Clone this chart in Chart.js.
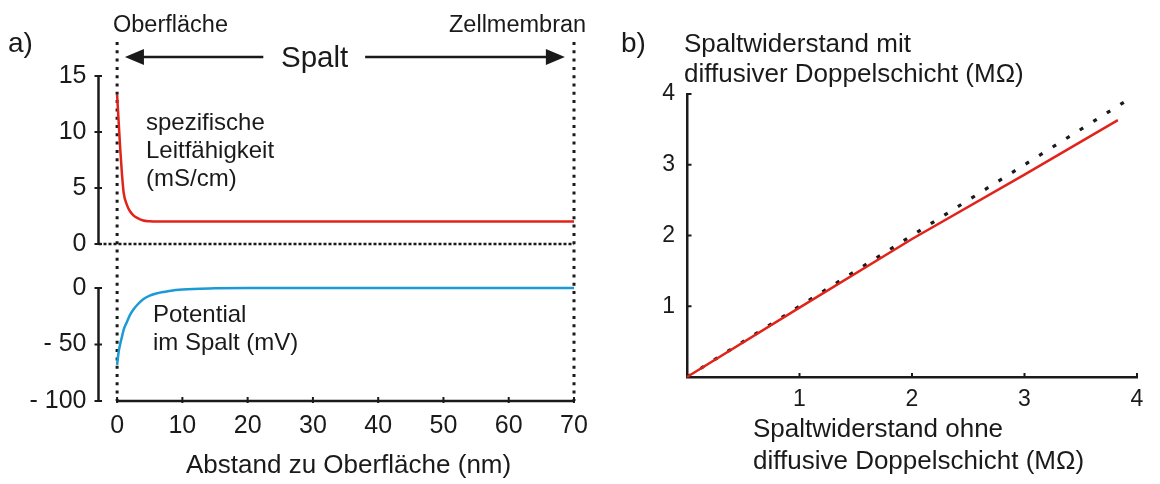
<!DOCTYPE html>
<html lang="de">
<head>
<meta charset="utf-8">
<title>Spalt zwischen Oberfläche und Zellmembran</title>
<script src="https://cdn.jsdelivr.net/npm/chart.js@4.4.1/dist/chart.umd.min.js"></script>
<style>
  html, body { margin: 0; padding: 0; background: #fff; }
  #stage { position: relative; width: 1160px; height: 484px; overflow: hidden;
           font-family: 'Liberation Sans', Arial, Helvetica, sans-serif; color: #1a1a1a; }
  .panel { position: absolute; }
  .lbl { position: absolute; line-height: 1; white-space: nowrap; }
</style>
</head>
<body>
<div id="stage">
  <div class="panel" style="left:0;top:0;"><canvas id="gapChart" width="600" height="484"></canvas></div>
  <div class="panel" style="left:600px;top:0;"><canvas id="resChart" width="560" height="484"></canvas></div>

  <div class="lbl" style="left:8px;top:29px;font-size:28px;">a)</div>
  <div class="lbl" style="left:621px;top:29px;font-size:28px;">b)</div>
  <div class="lbl" style="left:113px;top:13.4px;font-size:23.5px;">Oberfläche</div>
  <div class="lbl" style="left:449px;top:13.4px;font-size:23.5px;">Zellmembran</div>
  <div class="lbl" style="left:281px;top:42px;font-size:29.5px;">Spalt</div>
  <div class="lbl" style="left:146px;top:107.7px;font-size:24px;line-height:28px;">spezifische<br>Leitfähigkeit<br>(mS/cm)</div>
  <div class="lbl" style="left:153px;top:299.7px;font-size:24px;line-height:28px;">Potential<br>im Spalt (mV)</div>
  <div class="lbl" style="left:186px;top:451px;font-size:26px;">Abstand zu Oberfläche (nm)</div>
  <div class="lbl" style="left:684px;top:28px;font-size:26px;line-height:30px;">Spaltwiderstand mit<br>diffusiver Doppelschicht (MΩ)</div>
  <div class="lbl" style="left:753px;top:412px;font-size:26px;line-height:32px;">Spaltwiderstand ohne<br>diffusive Doppelschicht (MΩ)</div>
</div>

<script>
// ---- panel a: profile across the gap ----
const distanceNm   = [0, 0.25, 0.5, 0.75, 1, 1.5, 2, 2.5, 3, 4, 5, 6, 8, 10, 15, 20, 30, 40, 50, 60, 70];
const conductivity = [13.3, 10.8, 8.3, 6.2, 4.6, 3.5, 2.9, 2.55, 2.35, 2.1, 2.03, 2.0, 2.0, 2.0, 2.0, 2.0, 2.0, 2.0, 2.0, 2.0, 2.0];
const potential    = [-68, -56, -49, -43, -37, -30, -23.5, -19, -15.5, -10, -6.8, -4.8, -2.6, -1.3, -0.3, 0, 0, 0, 0, 0, 0];
const distanceTicks     = [0, 10, 20, 30, 40, 50, 60, 70];
const conductivityTicks = [0, 5, 10, 15];
const potentialTicks    = [0, -50, -100];

// ---- panel b: gap resistance with vs. without diffuse double layer ----
const resistanceWithout = [0, 1, 2, 3, 3.83];
const resistanceWith    = [0, 0.98, 1.95, 2.86, 3.63];
const identityEnds      = [0, 3.97];
const resistanceTicks   = [1, 2, 3, 4];

const FONT = "'Liberation Sans', Arial, Helvetica, sans-serif";
const INK = '#1a1a1a';
const RED = '#e2231a';
const BLUE = '#1b9ad6';

// Panel a: both value bands share one plot area; each y scale gets the range
// that places its band at the wanted pixel rows.
const AREA_A = { top: 42, bottom: 401, left: 98.5, right: 574 };
const BAND_COND = { lo: 0, hi: 15, pxLo: 244, pxHi: 76 };
const BAND_POT  = { lo: -100, hi: 0, pxLo: 401, pxHi: 288 };
function bandRange(b, area) {
  const per = (b.pxLo - b.pxHi) / (b.hi - b.lo);
  return { min: b.lo - (area.bottom - b.pxLo) / per, max: b.hi + (b.pxHi - area.top) / per };
}
const condRange = bandRange(BAND_COND, AREA_A);
const potRange = bandRange(BAND_POT, AREA_A);
const X_MIN_A = -2.85;
const X_MAX_A = 70;
const LABEL_GAP = 12;   // px between y labels and the axis line
const pxPerNm = (AREA_A.right - AREA_A.left) / (X_MAX_A - X_MIN_A);

const toPoints = (xs, ys) => xs.map((v, i) => ({ x: v, y: ys[i] }));
const fixTicks = list => scale => { scale.ticks = list.map(v => ({ value: v })); };
const tickFont = size => ({ family: FONT, size: size });

function seg(ctx, x1, y1, x2, y2) {
  ctx.beginPath(); ctx.moveTo(x1, y1); ctx.lineTo(x2, y2); ctx.stroke();
}
function arrowHead(ctx, tipX, y, dir) {
  ctx.beginPath();
  ctx.moveTo(tipX, y);
  ctx.lineTo(tipX - dir * 19, y - 8);
  ctx.lineTo(tipX - dir * 19, y + 8);
  ctx.closePath();
  ctx.fill();
}

// Guides, axes, tick marks and the "Spalt" arrows of panel a
const SPAN_ARROWS = { y: 57, leftTip: 1.2, leftTail: 22.4, rightTail: 38.0, rightTip: 68.6 };
const gapGuides = {
  id: 'gapGuides',
  beforeDatasetsDraw(chart) {
    const { ctx, chartArea, scales: { x, yCond, yPot } } = chart;
    ctx.save();
    ctx.strokeStyle = INK;
    // dotted boundaries: surface (0 nm) and cell membrane (70 nm)
    ctx.lineWidth = 3;
    ctx.setLineDash([3, 5.3]);
    for (const d of [0, 70]) {
      const px = x.getPixelForValue(d);
      seg(ctx, px, chartArea.top, px, yPot.getPixelForValue(-100));
    }
    // dotted zero line of the conductivity band
    ctx.lineWidth = 2.5;
    ctx.setLineDash([3, 2]);
    const y0 = yCond.getPixelForValue(0);
    seg(ctx, chartArea.left, y0, x.getPixelForValue(70), y0);
    ctx.setLineDash([]);

    // y axes (each only across its own band)
    const ax = chartArea.left;
    seg(ctx, ax, yCond.getPixelForValue(15) - 1, ax, y0);
    seg(ctx, ax, yPot.getPixelForValue(0) - 1, ax, yPot.getPixelForValue(-100) + 1);
    ctx.lineWidth = 2;
    for (const v of conductivityTicks) {
      const py = yCond.getPixelForValue(v);
      seg(ctx, ax - 4, py, ax + 3.5, py);
    }
    for (const v of potentialTicks) {
      const py = yPot.getPixelForValue(v);
      seg(ctx, ax - 4, py, ax + 3.5, py);
    }
    // distance axis
    const by = yPot.getPixelForValue(-100);
    ctx.lineWidth = 2.5;
    seg(ctx, x.getPixelForValue(0) - 1, by, x.getPixelForValue(70) + 1, by);
    ctx.lineWidth = 2;
    for (const d of distanceTicks) {
      const px = x.getPixelForValue(d);
      seg(ctx, px, by - 4, px, by + 2);
    }

    // arrows spanning the gap
    ctx.fillStyle = INK;
    ctx.lineWidth = 2.5;
    const ay = SPAN_ARROWS.y;
    const lt = x.getPixelForValue(SPAN_ARROWS.leftTip);
    const rt = x.getPixelForValue(SPAN_ARROWS.rightTip);
    seg(ctx, lt + 15, ay, x.getPixelForValue(SPAN_ARROWS.leftTail), ay);
    arrowHead(ctx, lt, ay, -1);
    seg(ctx, x.getPixelForValue(SPAN_ARROWS.rightTail), ay, rt - 15, ay);
    arrowHead(ctx, rt, ay, 1);
    ctx.restore();
  }
};

// The conductivity scale fills the left gutter; the potential scale is pinned
// just left of the plot area so both label columns line up.
new Chart(document.getElementById('gapChart'), {
  type: 'line',
  data: {
    datasets: [
      { label: 'spezifische Leitfähigkeit (mS/cm)', data: toPoints(distanceNm, conductivity), yAxisID: 'yCond',
        borderColor: RED, borderWidth: 2.5, pointRadius: 0, cubicInterpolationMode: 'monotone', clip: false },
      { label: 'Potential im Spalt (mV)', data: toPoints(distanceNm, potential), yAxisID: 'yPot',
        borderColor: BLUE, borderWidth: 2.5, pointRadius: 0, cubicInterpolationMode: 'monotone', clip: false }
    ]
  },
  options: {
    responsive: false, animation: false, events: [],
    layout: { padding: { left: 0, top: AREA_A.top, right: 600 - AREA_A.right, bottom: 0 } },
    plugins: { legend: { display: false }, tooltip: { enabled: false } },
    scales: {
      x: {
        type: 'linear', position: 'bottom', min: X_MIN_A, max: X_MAX_A,
        afterFit: s => { s.height = 484 - AREA_A.bottom; },
        afterBuildTicks: fixTicks(distanceTicks),
        grid: { display: false, drawTicks: false }, border: { display: false },
        ticks: { font: tickFont(25), color: INK, padding: 10, autoSkip: false, maxRotation: 0 }
      },
      yCond: {
        type: 'linear', axis: 'y', position: 'left', min: condRange.min, max: condRange.max,
        afterFit: s => { s.width = AREA_A.left; },
        afterBuildTicks: fixTicks(conductivityTicks),
        grid: { display: false, drawTicks: false }, border: { display: false },
        ticks: { font: tickFont(25), color: INK, padding: LABEL_GAP, autoSkip: false }
      },
      yPot: {
        type: 'linear', axis: 'y', position: { x: X_MIN_A - LABEL_GAP / pxPerNm },
        min: potRange.min, max: potRange.max,
        afterBuildTicks: fixTicks(potentialTicks),
        grid: { display: false, drawTicks: false }, border: { display: false },
        ticks: { font: tickFont(25), color: INK, padding: 0, autoSkip: false,
                 callback: v => (v === 0 ? '0' : '- ' + Math.abs(v)) }
      }
    }
  },
  plugins: [gapGuides]
});

// Inward tick marks of panel b
const resTicks = {
  id: 'resTicks',
  afterDraw(chart) {
    const { ctx, chartArea, scales: { x, y } } = chart;
    ctx.save();
    ctx.strokeStyle = INK;
    ctx.lineWidth = 2;
    for (const v of resistanceTicks) {
      const px = x.getPixelForValue(v);
      seg(ctx, px, chartArea.bottom + 1, px, chartArea.bottom - 4);
      const py = y.getPixelForValue(v);
      seg(ctx, chartArea.left - 1, py, chartArea.left + 4.5, py);
    }
    ctx.restore();
  }
};

const AREA_B = { top: 94, bottom: 377, left: 87, right: 537 };
new Chart(document.getElementById('resChart'), {
  type: 'scatter',
  data: {
    datasets: [
      { label: 'mit diffusiver Doppelschicht', data: toPoints(resistanceWithout, resistanceWith), showLine: true,
        borderColor: RED, borderWidth: 2.5, pointRadius: 0, clip: false },
      { label: 'ohne Doppelschicht', data: toPoints(identityEnds, identityEnds), showLine: true,
        borderColor: INK, borderWidth: 3.2, borderDash: [4, 12], pointRadius: 0, clip: false }
    ]
  },
  options: {
    responsive: false, animation: false, events: [],
    layout: { padding: { left: 0, top: AREA_B.top, right: 560 - AREA_B.right, bottom: 0 } },
    plugins: { legend: { display: false }, tooltip: { enabled: false } },
    scales: {
      x: {
        type: 'linear', min: 0, max: 4,
        afterFit: s => { s.height = 484 - AREA_B.bottom; },
        afterBuildTicks: fixTicks(resistanceTicks),
        grid: { display: false, drawTicks: false },
        border: { display: true, width: 2.5, color: INK },
        ticks: { font: tickFont(23), color: INK, padding: 9, autoSkip: false, maxRotation: 0 }
      },
      y: {
        type: 'linear', min: 0, max: 4,
        afterFit: s => { s.width = AREA_B.left; },
        afterBuildTicks: fixTicks(resistanceTicks),
        grid: { display: false, drawTicks: false },
        border: { display: true, width: 2.5, color: INK },
        ticks: { font: tickFont(23), color: INK, padding: 12, autoSkip: false }
      }
    }
  },
  plugins: [resTicks]
});
</script>
</body>
</html>
